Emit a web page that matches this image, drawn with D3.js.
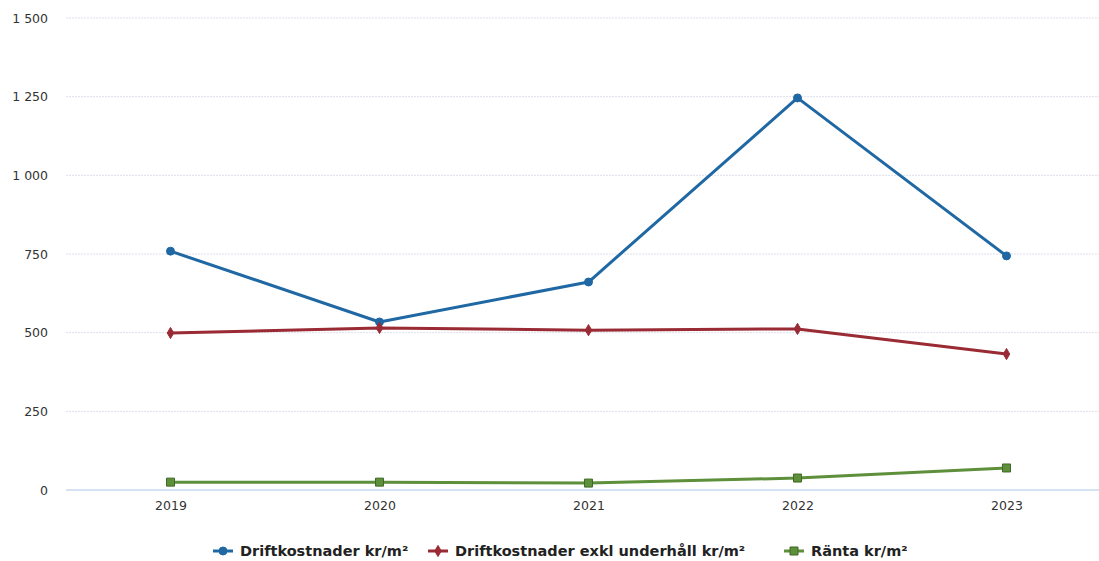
<!DOCTYPE html>
<html>
<head>
<meta charset="utf-8">
<script src="https://cdn.jsdelivr.net/npm/d3@7"></script>
<style>
  html, body { margin: 0; padding: 0; background: #ffffff; }
  svg { display: block; font-family: "DejaVu Sans", sans-serif; }
</style>
</head>
<body>
<svg id="chart" width="1099" height="561"></svg>
<script>
// Yearly cost figures per square metre
const years = ["2019", "2020", "2021", "2022", "2023"];
const driftkostnader = [759, 534, 661, 1246, 744];
const driftkostnaderExkl = [499, 515, 508, 512, 432];
const ranta = [25, 25, 22, 38, 70];
const yTicks = [0, 250, 500, 750, 1000, 1250, 1500];
const seriesNames = ["Driftkostnader kr/m²", "Driftkostnader exkl underhåll kr/m²", "Ränta kr/m²"];

const series = [
  { name: seriesNames[0], values: driftkostnader, color: "#1f68a3", symbol: "circle" },
  { name: seriesNames[1], values: driftkostnaderExkl, color: "#9a2a33", symbol: "diamond" },
  { name: seriesNames[2], values: ranta, color: "#5e8f3a", stroke: "#3f6a25", symbol: "square" }
];

const svg = d3.select("#chart");
const plot = { left: 66, right: 1111, top: 18, bottom: 490 };

const x = d3.scalePoint().domain(years).range([plot.left, plot.right]).padding(0.5);
const y = d3.scaleLinear().domain([0, 1500]).range([plot.bottom, plot.top]);

const fmt = v => d3.format(",")(v).replace(/,/g, " ");

// Horizontal grid lines
svg.append("g")
  .selectAll("line")
  .data(yTicks.filter(t => t > 0))
  .join("line")
  .attr("x1", plot.left).attr("x2", 1099)
  .attr("y1", d => y(d)).attr("y2", d => y(d))
  .attr("stroke", "#dde0ea")
  .attr("stroke-width", 1)
  .attr("stroke-dasharray", "2,1");

// Baseline
svg.append("line")
  .attr("x1", plot.left).attr("x2", 1099)
  .attr("y1", y(0)).attr("y2", y(0))
  .attr("stroke", "#a9c6e6").attr("stroke-width", 1);

// Y axis labels
const yAxis = d3.axisLeft(y).tickValues(yTicks).tickFormat(fmt).tickSize(0).tickPadding(0);
const gy = svg.append("g").attr("transform", "translate(48,0)").call(yAxis);
gy.select(".domain").remove();
gy.selectAll("text").attr("fill", "#333333").style("font-size", "12.5px")
  .style("font-family", "\"DejaVu Sans\", sans-serif");

// X axis labels
const xAxis = d3.axisBottom(x).tickSize(0).tickPadding(0);
const gx = svg.append("g").attr("transform", `translate(0,${plot.bottom + 11})`).call(xAxis);
gx.select(".domain").remove();
gx.selectAll("text").attr("fill", "#333333").style("font-size", "12.5px")
  .style("font-family", "\"DejaVu Sans\", sans-serif");

const symbolType = { circle: d3.symbolCircle, diamond: d3.symbolDiamond, square: d3.symbolSquare };
const symbolSize = { circle: 50, diamond: 36, square: 64 };

const line = d3.line().x((d, i) => x(years[i])).y(d => y(d));

series.forEach(s => {
  svg.append("path")
    .datum(s.values)
    .attr("d", line)
    .attr("fill", "none")
    .attr("stroke", s.color)
    .attr("stroke-width", 3)
    .attr("stroke-linejoin", "round");

  svg.append("g")
    .selectAll("path")
    .data(s.values)
    .join("path")
    .attr("transform", (d, i) => `translate(${x(years[i])},${y(d)})`)
    .attr("d", d3.symbol().type(symbolType[s.symbol]).size(symbolSize[s.symbol]))
    .attr("fill", s.color)
    .attr("stroke", s.stroke || s.color)
    .attr("stroke-width", 1);
});

// Legend
const legendX = [213, 428, 784];
const legend = svg.append("g").attr("transform", "translate(0,551)");
series.forEach((s, i) => {
  const g = legend.append("g").attr("transform", `translate(${legendX[i]},0)`);
  g.append("line").attr("x1", 0).attr("x2", 20).attr("y1", 0).attr("y2", 0)
    .attr("stroke", s.color).attr("stroke-width", 3);
  g.append("path")
    .attr("transform", "translate(10,0)")
    .attr("d", d3.symbol().type(symbolType[s.symbol]).size(symbolSize[s.symbol]))
    .attr("fill", s.color).attr("stroke", s.stroke || s.color);
  g.append("text")
    .attr("x", 27).attr("y", 0).attr("dy", "0.36em")
    .attr("fill", "#222222")
    .style("font-size", "14.5px").style("font-weight", "bold")
    .text(s.name);
});
</script>
</body>
</html>
